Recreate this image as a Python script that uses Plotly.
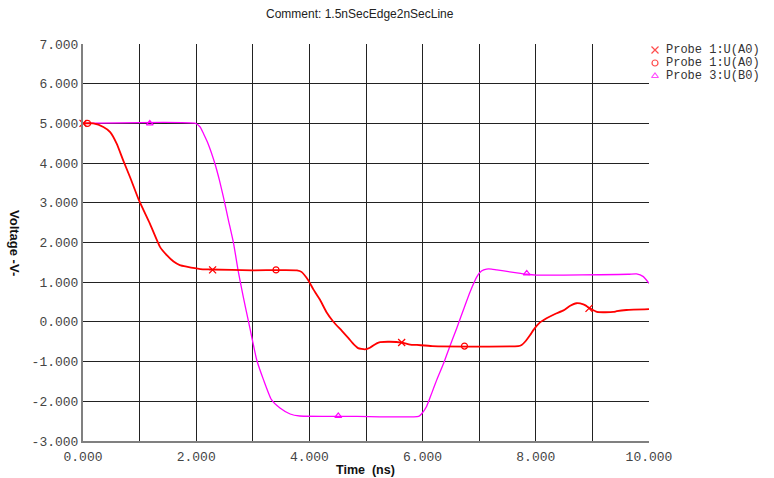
import plotly.graph_objects as go

# ---- data (time in ns, voltage in V) ----
red_t = [0.0, 0.18, 0.36, 0.48, 0.595, 0.71, 0.83, 0.99, 1.18, 1.36, 1.48, 1.60, 1.71, 1.83,
         2.07, 2.24, 3.00, 3.78, 3.86, 3.98, 4.07, 4.19, 4.30, 4.42, 4.57, 4.69, 4.78, 4.86,
         4.98, 5.07, 5.19, 5.25, 5.42, 5.63, 5.78, 5.90, 6.17, 7.69, 7.75, 7.81, 7.90, 7.96,
         8.07, 8.19, 8.34, 8.49, 8.60, 8.72, 8.84, 8.96, 9.08, 9.37, 9.43, 9.60, 10.0]
red_v = [5.00, 5.00, 4.91, 4.78, 4.49, 4.07, 3.65, 3.06, 2.48, 1.89, 1.68, 1.52, 1.43, 1.39,
         1.33, 1.32, 1.30, 1.30, 1.26, 1.05, 0.82, 0.55, 0.25, 0.01, -0.22, -0.41, -0.56, -0.66,
         -0.69, -0.65, -0.54, -0.51, -0.50, -0.52, -0.57, -0.58, -0.61, -0.61, -0.58, -0.50, -0.33, -0.20,
         -0.02, 0.09, 0.20, 0.29, 0.40, 0.47, 0.44, 0.34, 0.25, 0.25, 0.27, 0.30, 0.32]

mag_t = [0.0, 1.99, 2.07, 2.13, 2.21, 2.33, 2.41, 2.48, 2.57, 2.66, 2.74, 2.83, 2.92, 3.07,
         3.19, 3.33, 3.48, 3.66, 3.83, 4.84, 5.93, 5.98, 6.07, 6.16, 6.25, 6.37, 6.48, 6.60,
         6.72, 6.84, 6.96, 7.04, 7.13, 7.22, 7.31, 7.84, 8.01, 9.63, 9.78, 9.90, 10.0]
mag_v = [5.00, 5.00, 4.91, 4.74, 4.49, 3.99, 3.57, 3.15, 2.56, 1.98, 1.30, 0.64, 0.04, -0.96,
         -1.46, -1.96, -2.17, -2.32, -2.37, -2.38, -2.38, -2.32, -2.13, -1.80, -1.46, -1.05, -0.62, -0.17,
         0.30, 0.76, 1.14, 1.28, 1.33, 1.33, 1.31, 1.20, 1.18, 1.20, 1.21, 1.14, 0.97]

# marker positions on the curves
x_mark_t = [0.0, 2.29, 5.63, 8.94]
x_mark_v = [5.00, 1.31, -0.52, 0.34]
o_mark_t = [0.08, 3.41, 6.74]
o_mark_v = [5.00, 1.31, -0.61]
tri_mark_t = [1.18, 4.51, 7.84]
tri_mark_v = [5.00, -2.37, 1.22]

legend_names = ["Probe 1:U(A0)", "Probe 1:U(A0)", "Probe 3:U(B0)"]

x_tickvals = list(range(0, 11))
x_ticktext = [f"{v:.3f}" if v % 2 == 0 else "" for v in x_tickvals]
y_tickvals = list(range(-3, 8))
y_ticktext = [f"{v:.3f}" for v in y_tickvals]

RED = "#ff0000"
MAG = "#ff00ff"
MONO = "Liberation Mono, Courier New, monospace"
SANS = "Liberation Sans, Arial, sans-serif"
W, H = 774, 478

fig = go.Figure()
fig.add_trace(go.Scatter(x=mag_t, y=mag_v, mode="lines",
                         line=dict(color=MAG, width=1.3, shape="spline", smoothing=0.5),
                         showlegend=False, hoverinfo="skip"))
fig.add_trace(go.Scatter(x=red_t, y=red_v, mode="lines",
                         line=dict(color=RED, width=1.8, shape="spline", smoothing=0.5),
                         showlegend=False, hoverinfo="skip"))
fig.add_trace(go.Scatter(x=x_mark_t, y=x_mark_v, mode="markers", name=legend_names[0],
                         marker=dict(symbol="x-thin-open", size=7, color=RED, line=dict(color=RED, width=1.3)),
                         showlegend=False, cliponaxis=False))
fig.add_trace(go.Scatter(x=o_mark_t, y=o_mark_v, mode="markers", name=legend_names[1],
                         marker=dict(symbol="circle-open", size=6, color=RED, line=dict(color=RED, width=1.2)),
                         showlegend=False, cliponaxis=False))
fig.add_trace(go.Scatter(x=tri_mark_t, y=tri_mark_v, mode="markers", name=legend_names[2],
                         marker=dict(symbol="triangle-up-open", size=6, color=MAG, line=dict(color=MAG, width=1.2)),
                         showlegend=False, cliponaxis=False))

# compact manual legend drawn on a full-page pixel overlay axis
leg_sym = ["x-thin-open", "circle-open", "triangle-up-open"]
leg_col = [RED, RED, MAG]
leg_y_px = [50, 63, 76]
fig.add_trace(go.Scatter(x=[655] * 3, y=leg_y_px, mode="markers", xaxis="x2", yaxis="y2",
                         marker=dict(symbol=leg_sym, size=[7, 6, 6], color=leg_col,
                                     line=dict(color=leg_col, width=1.2)),
                         showlegend=False, hoverinfo="skip", cliponaxis=False))
for ypx, name in zip(leg_y_px, legend_names):
    fig.add_annotation(x=664 / W, y=1 - ypx / H, xref="paper", yref="paper",
                       text=name, showarrow=False, xanchor="left", yanchor="middle",
                       font=dict(family=MONO, size=12, color="#333333"))

fig.add_annotation(x=360 / W, y=1 - 14 / H, xref="paper", yref="paper",
                   text="Comment: 1.5nSecEdge2nSecLine", showarrow=False,
                   xanchor="center", yanchor="middle",
                   font=dict(family=SANS, size=12, color="#222222"))
fig.add_annotation(x=15 / W, y=1 - 243 / H, xref="paper", yref="paper",
                   text="<b>Voltage -V-</b>", showarrow=False, textangle=90,
                   xanchor="center", yanchor="middle",
                   font=dict(family=SANS, size=13, color="#111111"))
fig.add_annotation(x=365 / W, y=1 - 470 / H, xref="paper", yref="paper",
                   text="<b>Time  (ns)</b>", showarrow=False,
                   xanchor="center", yanchor="middle",
                   font=dict(family=SANS, size=12.5, color="#111111"))

fig.update_layout(
    width=W, height=H,
    margin=dict(l=0, r=0, t=0, b=0, pad=0, autoexpand=False),
    paper_bgcolor="white", plot_bgcolor="rgba(0,0,0,0)",
    showlegend=False,
    xaxis=dict(domain=[83 / W, 649 / W], anchor="y", automargin=False,
               range=[0, 10], tickmode="array", tickvals=x_tickvals, ticktext=x_ticktext,
               showgrid=True, gridcolor="#222222", gridwidth=1, zeroline=False,
               showline=True, linecolor="#808080", linewidth=2, ticks="",
               ticklabelstandoff=2,
               tickfont=dict(family=MONO, size=13, color="#444444")),
    yaxis=dict(domain=[1 - 441 / H, 1 - 44 / H], anchor="x", automargin=False,
               range=[-3, 7], tickmode="array", tickvals=y_tickvals, ticktext=y_ticktext,
               showgrid=True, gridcolor="#222222", gridwidth=1, zeroline=False,
               showline=True, linecolor="#808080", linewidth=2, ticks="",
               ticklabelstandoff=0,
               tickfont=dict(family=MONO, size=13, color="#444444")),
    xaxis2=dict(domain=[0, 1], range=[0, W], visible=False, anchor="y2", fixedrange=True),
    yaxis2=dict(domain=[0, 1], range=[H, 0], visible=False, anchor="x2", fixedrange=True),
)

fig.write_html("out.html")
